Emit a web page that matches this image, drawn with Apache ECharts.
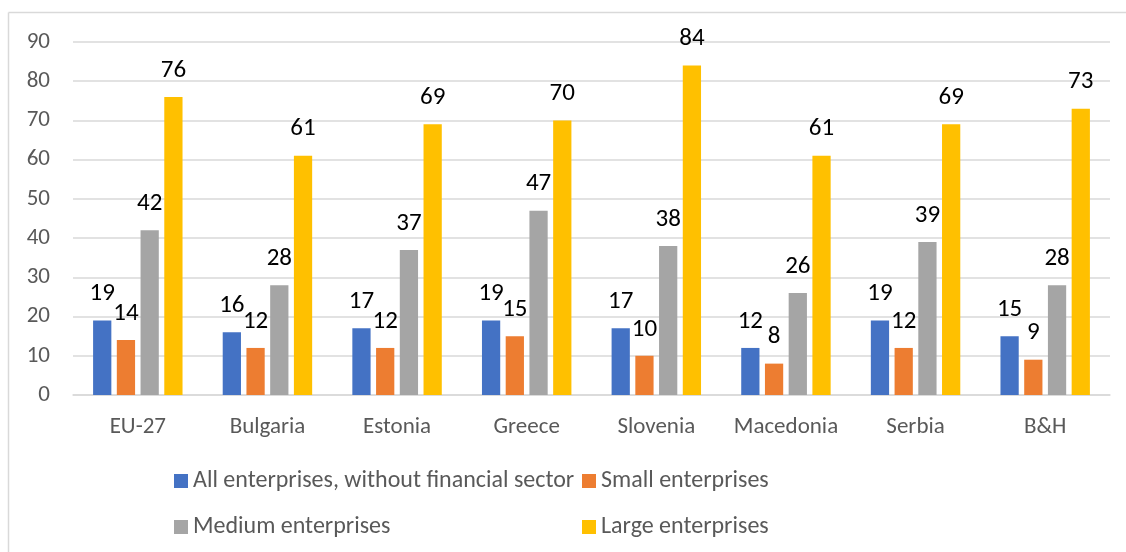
<!DOCTYPE html>
<html>
<head>
<meta charset="utf-8">
<script src="https://cdn.jsdelivr.net/npm/echarts@6/dist/echarts.min.js"></script>
<style>
  html, body { margin: 0; padding: 0; background: #fff; }
  #chart { width: 1126px; height: 552px; }
</style>
</head>
<body>
<div id="chart"></div>
<script>
// Share of enterprises by country and size class
const categories = ['EU-27', 'Bulgaria', 'Estonia', 'Greece', 'Slovenia', 'Macedonia', 'Serbia', 'B&H'];
const seriesNames = ['All enterprises, without financial sector', 'Small enterprises', 'Medium enterprises', 'Large enterprises'];
const allEnterprises = [19, 16, 17, 19, 17, 12, 19, 15];
const smallEnterprises = [14, 12, 12, 15, 10, 8, 12, 9];
const mediumEnterprises = [42, 28, 37, 47, 38, 26, 39, 28];
const largeEnterprises = [76, 61, 69, 70, 84, 61, 69, 73];
const yTicks = [0, 10, 20, 30, 40, 50, 60, 70, 80, 90];

const colors = ['#4472C4', '#ED7D31', '#A5A5A5', '#FFC000'];
const values = [allEnterprises, smallEnterprises, mediumEnterprises, largeEnterprises];
const font = 'Calibri, Carlito, Lato, "Open Sans", sans-serif';

const chart = echarts.init(document.getElementById('chart'), null, { renderer: 'canvas' });

const legendBase = {
  orient: 'vertical', top: 469, itemGap: 22, padding: 0,
  itemWidth: 14, itemHeight: 14, icon: 'rect',
  textStyle: { color: '#595959', fontSize: 24, fontFamily: font }
};

chart.setOption({
  animation: false,
  backgroundColor: '#ffffff',
  color: colors,
  textStyle: { fontFamily: font },
  graphic: [
    { type: 'line', shape: { x1: 8.5, y1: 12.5, x2: 1126, y2: 12.5 }, style: { stroke: '#d9d9d9', lineWidth: 1.5 } },
    { type: 'line', shape: { x1: 8.5, y1: 12.5, x2: 8.5, y2: 552 }, style: { stroke: '#d9d9d9', lineWidth: 1.5 } }
  ],
  grid: { left: 73, right: 16, top: 42, bottom: 157, containLabel: false },
  legend: [
    Object.assign({ data: [seriesNames[0], seriesNames[2]], left: 174 }, legendBase),
    Object.assign({ data: [seriesNames[1], seriesNames[3]], left: 582 }, legendBase)
  ],
  xAxis: {
    type: 'category',
    data: categories,
    axisLine: { lineStyle: { color: '#d9d9d9', width: 1.5 } },
    axisTick: { show: false },
    axisLabel: { interval: 0, color: '#595959', fontSize: 23, margin: 21, fontFamily: font }
  },
  yAxis: {
    type: 'value',
    min: yTicks[0],
    max: yTicks[yTicks.length - 1],
    interval: 10,
    axisLine: { show: false },
    axisTick: { show: false },
    splitLine: { lineStyle: { color: '#d9d9d9', width: 1.5 } },
    axisLabel: { color: '#595959', fontSize: 23, margin: 23, fontFamily: font }
  },
  series: values.map((v, i) => ({
    name: seriesNames[i],
    type: 'bar',
    data: v,
    barGap: '30%',
    barCategoryGap: '31%',
    itemStyle: { color: colors[i] },
    label: {
      show: true,
      position: 'top',
      distance: 14,
      color: '#000000',
      fontSize: 25,
      fontFamily: font
    }
  }))
});
</script>
</body>
</html>
